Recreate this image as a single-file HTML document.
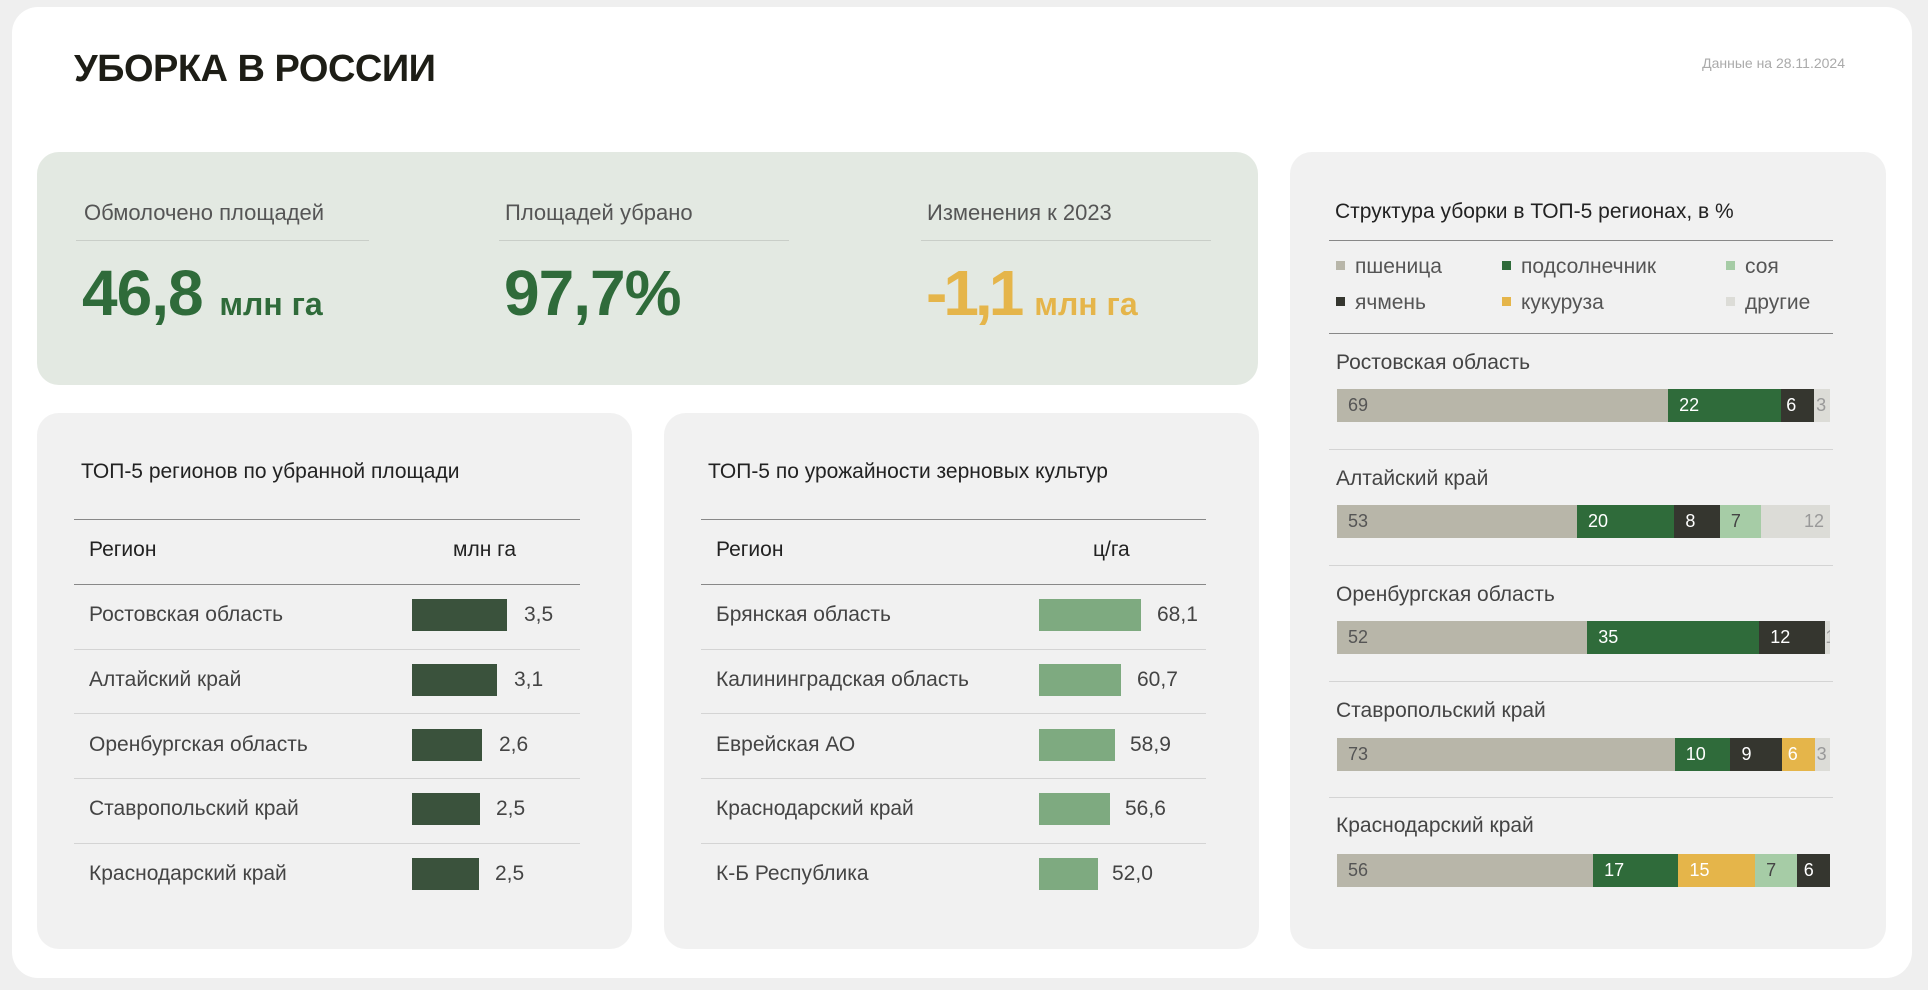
<!DOCTYPE html>
<html><head><meta charset="utf-8"><style>
*{margin:0;padding:0;box-sizing:border-box}
body{width:1928px;height:990px;background:#efefef;font-family:"Liberation Sans",sans-serif;position:relative;overflow:hidden;color:#222}
.abs{position:absolute}
.card{position:absolute;left:12px;top:7px;width:1900px;height:971px;background:#fff;border-radius:26px}
.panel{position:absolute;background:#f1f1f1;border-radius:22px}
.lbl{position:absolute;font-size:22px;color:#555;white-space:nowrap}
.ul{position:absolute;height:1px;background:#c9cec8}
.big{position:absolute;font-size:64px;font-weight:bold;white-space:nowrap;letter-spacing:-1px}
.big span{font-size:32px;letter-spacing:0}
.t{position:absolute;white-space:nowrap}
.hl{position:absolute;height:1px}
.row{position:absolute;font-size:21px;color:#444;white-space:nowrap}
.bar{position:absolute;height:32px}
.seg{height:100%;font-size:18px;line-height:33px;padding-left:11px;overflow:hidden;white-space:nowrap}
.sbar{position:absolute;left:1337px;width:493px;height:33px;display:flex}
.sq{display:inline-block;width:9px;height:9px;margin-right:10px;vertical-align:middle;position:relative;top:-2px}
</style></head><body>
<div class="card"></div>
<div class="t" style="left:74px;top:48px;font-size:38px;font-weight:bold;color:#1d1d16;letter-spacing:-0.5px">УБОРКА В РОССИИ</div>
<div class="t" style="right:83px;top:55px;font-size:14px;color:#aaa">Данные на 28.11.2024</div>

<div class="panel" style="left:37px;top:152px;width:1221px;height:233px;background:#e3e9e2"></div>
<div class="lbl" style="left:84px;top:200px">Обмолочено площадей</div>
<div class="lbl" style="left:505px;top:200px">Площадей убрано</div>
<div class="lbl" style="left:927px;top:200px">Изменения к 2023</div>
<div class="ul" style="left:76px;top:240px;width:293px"></div>
<div class="ul" style="left:499px;top:240px;width:290px"></div>
<div class="ul" style="left:921px;top:240px;width:290px"></div>
<div class="big" style="left:82px;top:256px;color:#2f6b3a">46,8 <span>млн га</span></div>
<div class="big" style="left:504px;top:256px;color:#2f6b3a">97,7%</div>
<div class="big" style="left:926px;top:256px;color:#e5b54a;letter-spacing:-4px">-1,1<span style="margin-left:14px">млн га</span></div>

<div class="panel" style="left:37px;top:413px;width:595px;height:536px"></div>
<div class="panel" style="left:664px;top:413px;width:595px;height:536px"></div>
<div class="panel" style="left:1290px;top:152px;width:596px;height:797px"></div>

<!-- left table -->
<div class="t" style="left:81px;top:460px;font-size:21px;color:#222">ТОП-5 регионов по убранной площади</div>
<div class="hl" style="left:74px;top:519px;width:506px;background:#888"></div>
<div class="t" style="left:89px;top:538px;font-size:21px;color:#222">Регион</div>
<div class="t" style="left:453px;top:538px;font-size:21px;color:#222">млн га</div>
<div class="hl" style="left:74px;top:584px;width:506px;background:#888"></div>
<div class="hl" style="left:74px;top:649px;width:506px;background:#d4d4d4"></div>
<div class="hl" style="left:74px;top:713px;width:506px;background:#d4d4d4"></div>
<div class="hl" style="left:74px;top:778px;width:506px;background:#d4d4d4"></div>
<div class="hl" style="left:74px;top:843px;width:506px;background:#d4d4d4"></div>
<div class="row" style="left:89px;top:603px">Ростовская область</div>
<div class="row" style="left:89px;top:668px">Алтайский край</div>
<div class="row" style="left:89px;top:733px">Оренбургская область</div>
<div class="row" style="left:89px;top:797px">Ставропольский край</div>
<div class="row" style="left:89px;top:862px">Краснодарский край</div>
<div class="bar" style="left:412px;top:599px;width:95px;background:#3a523c"></div>
<div class="bar" style="left:412px;top:664px;width:85px;background:#3a523c"></div>
<div class="bar" style="left:412px;top:729px;width:70px;background:#3a523c"></div>
<div class="bar" style="left:412px;top:793px;width:68px;background:#3a523c"></div>
<div class="bar" style="left:412px;top:858px;width:67px;background:#3a523c"></div>
<div class="row" style="left:524px;top:603px">3,5</div>
<div class="row" style="left:514px;top:668px">3,1</div>
<div class="row" style="left:499px;top:733px">2,6</div>
<div class="row" style="left:496px;top:797px">2,5</div>
<div class="row" style="left:495px;top:862px">2,5</div>

<!-- middle table -->
<div class="t" style="left:708px;top:460px;font-size:21px;color:#222">ТОП-5 по урожайности зерновых культур</div>
<div class="hl" style="left:701px;top:519px;width:505px;background:#888"></div>
<div class="t" style="left:716px;top:538px;font-size:21px;color:#222">Регион</div>
<div class="t" style="left:1093px;top:538px;font-size:21px;color:#222">ц/га</div>
<div class="hl" style="left:701px;top:584px;width:505px;background:#888"></div>
<div class="hl" style="left:701px;top:649px;width:505px;background:#d4d4d4"></div>
<div class="hl" style="left:701px;top:713px;width:505px;background:#d4d4d4"></div>
<div class="hl" style="left:701px;top:778px;width:505px;background:#d4d4d4"></div>
<div class="hl" style="left:701px;top:843px;width:505px;background:#d4d4d4"></div>
<div class="row" style="left:716px;top:603px">Брянская область</div>
<div class="row" style="left:716px;top:668px">Калининградская область</div>
<div class="row" style="left:716px;top:733px">Еврейская АО</div>
<div class="row" style="left:716px;top:797px">Краснодарский край</div>
<div class="row" style="left:716px;top:862px">К-Б Республика</div>
<div class="bar" style="left:1039px;top:599px;width:102px;background:#7eaa80"></div>
<div class="bar" style="left:1039px;top:664px;width:82px;background:#7eaa80"></div>
<div class="bar" style="left:1039px;top:729px;width:76px;background:#7eaa80"></div>
<div class="bar" style="left:1039px;top:793px;width:71px;background:#7eaa80"></div>
<div class="bar" style="left:1039px;top:858px;width:59px;background:#7eaa80"></div>
<div class="row" style="left:1157px;top:603px">68,1</div>
<div class="row" style="left:1137px;top:668px">60,7</div>
<div class="row" style="left:1130px;top:733px">58,9</div>
<div class="row" style="left:1125px;top:797px">56,6</div>
<div class="row" style="left:1112px;top:862px">52,0</div>

<!-- right panel -->
<div class="t" style="left:1335px;top:200px;font-size:21px;color:#222">Структура уборки в ТОП-5 регионах, в %</div>
<div class="hl" style="left:1329px;top:240px;width:504px;background:#888"></div>
<div class="t" style="left:1336px;top:255px;font-size:21px;color:#555"><i class="sq" style="background:#b8b6a9"></i>пшеница</div>
<div class="t" style="left:1502px;top:255px;font-size:21px;color:#555"><i class="sq" style="background:#2f6b3a"></i>подсолнечник</div>
<div class="t" style="left:1726px;top:255px;font-size:21px;color:#555"><i class="sq" style="background:#a6cca6"></i>соя</div>
<div class="t" style="left:1336px;top:291px;font-size:21px;color:#555"><i class="sq" style="background:#35362f"></i>ячмень</div>
<div class="t" style="left:1502px;top:291px;font-size:21px;color:#555"><i class="sq" style="background:#e5b54a"></i>кукуруза</div>
<div class="t" style="left:1726px;top:291px;font-size:21px;color:#555"><i class="sq" style="background:#dcdcd7"></i>другие</div>
<div class="hl" style="left:1329px;top:333px;width:504px;background:#888"></div>

<div class="row" style="left:1336px;top:351px">Ростовская область</div>
<div class="sbar" style="top:389px">
<div class="seg" style="flex:69;background:#b8b6a9;color:#555">69</div>
<div class="seg" style="flex:22;background:#2f6b3a;color:#fff">22</div>
<div class="seg" style="flex:6;background:#35362f;color:#fff;padding-left:5px">6</div>
<div class="seg" style="flex:3;background:#dcdcd7;color:#999;padding-left:2px">3</div>
</div>
<div class="hl" style="left:1329px;top:449px;width:504px;background:#d4d4d4"></div>

<div class="row" style="left:1336px;top:467px">Алтайский край</div>
<div class="sbar" style="top:505px">
<div class="seg" style="flex:53;background:#b8b6a9;color:#555">53</div>
<div class="seg" style="flex:20;background:#2f6b3a;color:#fff">20</div>
<div class="seg" style="flex:8;background:#35362f;color:#fff">8</div>
<div class="seg" style="flex:7;background:#a6cca6;color:#444">7</div>
<div class="seg" style="flex:12;background:#dcdcd7;color:#999;text-align:right;padding-right:6px">12</div>
</div>
<div class="hl" style="left:1329px;top:565px;width:504px;background:#d4d4d4"></div>

<div class="row" style="left:1336px;top:583px">Оренбургская область</div>
<div class="sbar" style="top:621px">
<div class="seg" style="flex:52;background:#b8b6a9;color:#555">52</div>
<div class="seg" style="flex:35;background:#2f6b3a;color:#fff">35</div>
<div class="seg" style="flex:12;background:#35362f;color:#fff">12</div>
<div class="seg" style="flex:1;background:#dcdcd7;color:#999;padding-left:0">1</div>
</div>
<div class="hl" style="left:1329px;top:681px;width:504px;background:#d4d4d4"></div>

<div class="row" style="left:1336px;top:699px">Ставропольский край</div>
<div class="sbar" style="top:738px">
<div class="seg" style="flex:73;background:#b8b6a9;color:#555">73</div>
<div class="seg" style="flex:10;background:#2f6b3a;color:#fff">10</div>
<div class="seg" style="flex:9;background:#35362f;color:#fff">9</div>
<div class="seg" style="flex:6;background:#e5b54a;color:#fff;padding-left:6px">6</div>
<div class="seg" style="flex:3;background:#dcdcd7;color:#999;padding-left:2px">3</div>
</div>
<div class="hl" style="left:1329px;top:797px;width:504px;background:#d4d4d4"></div>

<div class="row" style="left:1336px;top:814px">Краснодарский край</div>
<div class="sbar" style="top:854px">
<div class="seg" style="flex:56;background:#b8b6a9;color:#555">56</div>
<div class="seg" style="flex:17;background:#2f6b3a;color:#fff">17</div>
<div class="seg" style="flex:15;background:#e5b54a;color:#fff">15</div>
<div class="seg" style="flex:7;background:#a6cca6;color:#444">7</div>
<div class="seg" style="flex:6;background:#35362f;color:#fff;padding-left:7px">6</div>
</div>
</body></html>
